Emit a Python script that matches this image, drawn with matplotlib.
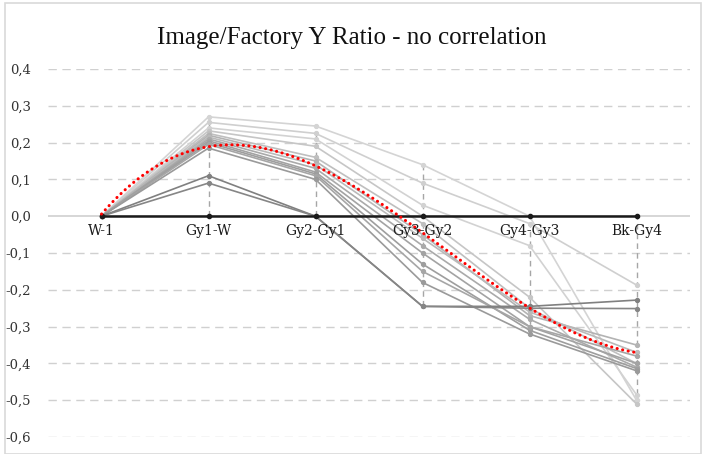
import numpy as np
import matplotlib
matplotlib.use("Agg")
import matplotlib.pyplot as plt
from matplotlib.patches import Rectangle
from matplotlib.ticker import FuncFormatter

plt.rcParams['font.family'] = ['DejaVu Serif']

categories = ['W-1', 'Gy1-W', 'Gy2-Gy1', 'Gy3-Gy2', 'Gy4-Gy3', 'Bk-Gy4']

s01 = [0, 0.270, 0.245, 0.140, 0.000, -0.500]
s02 = [0, 0.255, 0.225, 0.090, -0.020, -0.187]
s03 = [0, 0.240, 0.210, 0.030, -0.080, -0.485]
s04 = [0, 0.232, 0.190, 0.000, -0.220, -0.510]
s05 = [0, 0.225, 0.160, -0.020, -0.250, -0.400]
s06 = [0, 0.220, 0.150, -0.050, -0.270, -0.350]
s07 = [0, 0.215, 0.140, -0.060, -0.260, -0.370]
s08 = [0, 0.210, 0.130, -0.080, -0.280, -0.410]
s09 = [0, 0.205, 0.120, -0.100, -0.300, -0.400]
s10 = [0, 0.200, 0.115, -0.130, -0.310, -0.414]
s11 = [0, 0.195, 0.110, -0.150, -0.300, -0.380]
s12 = [0, 0.185, 0.100, -0.180, -0.320, -0.420]
s13 = [0, 0.110, 0.000, -0.245, -0.245, -0.228]
s14 = [0, 0.090, 0.000, -0.245, -0.250, -0.251]
zero_series = [0, 0, 0, 0, 0, 0]

series = [s01, s02, s03, s04, s05, s06, s07, s08, s09, s10, s11, s12, s13, s14]
series_colors = ['#d4d4d4', '#cfcfcf', '#d2d2d2', '#c6c6c6', '#bfbfbf', '#b3b3b3',
                 '#bababa', '#aaaaaa', '#a3a3a3', '#9e9e9e', '#a6a6a6', '#9a9a9a',
                 '#808080', '#868686']

yticks = [0.4, 0.3, 0.2, 0.1, 0.0, -0.1, -0.2, -0.3, -0.4, -0.5, -0.6]

W, H = 702, 454
fig = plt.figure(figsize=(W / 100, H / 100), dpi=100)
fig.patch.set_facecolor('white')
fig.patches.append(Rectangle((5 / W, 0), (W - 6) / W, (H - 3) / H, transform=fig.transFigure,
                             fill=False, edgecolor='#d9d9d9', linewidth=1.2))

ax = fig.add_axes([48 / W, 1 - 437 / H, (690 - 48) / W, (437 - 69) / H])
x = np.arange(len(categories))
ax.set_xlim(-0.5, len(categories) - 0.5)
ax.set_ylim(-0.6, 0.4)

for t in yticks:
    if abs(t) < 1e-9:
        ax.axhline(t, color='#d0d0d0', lw=1.2, zorder=1)
    else:
        ax.axhline(t, color='#d0d0d0', lw=1.0, dashes=(6, 4), zorder=1)

all_vals = np.array(series)
# drop lines
for i in range(len(categories)):
    lo = min(0, all_vals[:, i].min())
    hi = max(0, all_vals[:, i].max())
    ax.plot([x[i], x[i]], [lo, hi], color='#a6a6a6', lw=1.0, dashes=(4, 3), zorder=2)

for s, c in zip(series, series_colors):
    ax.plot(x, s, color=c, lw=1.2, marker='o', ms=2.8, mfc=c, mec=c, zorder=3)

ax.plot(x, zero_series, color='#1a1a1a', lw=1.8, marker='o', ms=3.0, mfc='#1a1a1a', zorder=4)

# polynomial trendline (order 3) fitted to all series points
xx = np.repeat(x[None, :], len(series), axis=0).ravel()
coef = np.polyfit(xx, all_vals.ravel(), 3)
xd = np.linspace(0, len(categories) - 1, 300)
ax.plot(xd, np.polyval(coef, xd), color='#ff0000', lw=2.2, ls=(0, (0.05, 1.8)),
        dash_capstyle='round', solid_capstyle='round', zorder=5)

for i, lab in enumerate(categories):
    ax.text(x[i], -0.02, lab, ha='center', va='top', fontsize=10,
            family='DejaVu Serif', color='#1a1a1a', zorder=6)

ax.set_yticks(yticks)
ax.yaxis.set_major_formatter(FuncFormatter(lambda v, p: f"{v:.1f}".replace('.', ',').replace('-0,0', '0,0')))
ax.set_xticks([])
ax.tick_params(axis='y', length=0, pad=12, labelsize=9.5, labelcolor='#333333')
for sp in ax.spines.values():
    sp.set_visible(False)

fig.text(352 / W, 1 - 38 / H, 'Image/Factory Y Ratio - no correlation', ha='center', va='center',
         fontsize=18, family='Liberation Serif', color='#111111')

fig.savefig('out.png', dpi=100)
